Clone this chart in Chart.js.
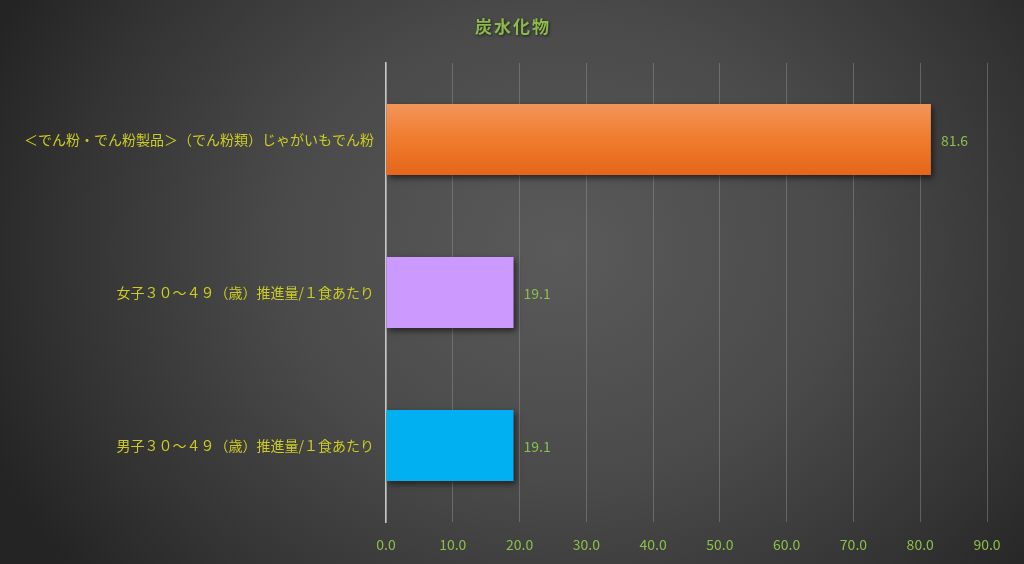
<!DOCTYPE html>
<html>
<head>
<meta charset="utf-8">
<script src="https://cdn.jsdelivr.net/npm/chart.js@4"></script>
<style>
html,body{margin:0;padding:0;}
body{width:1024px;height:564px;overflow:hidden;
background: radial-gradient(ellipse 620px 520px at 560px 250px, #5a5a5a 0%, #4a4a4a 45%, #333 80%, #242424 100%);}
#wrap{width:1024px;height:564px;position:relative;}
</style>
</head>
<body>
<div id="wrap"><canvas id="c" width="1024" height="564"></canvas></div>
<script>
const titleText = "炭水化物";
const categories = [
  "＜でん粉・でん粉製品＞（でん粉類）じゃがいもでん粉",
  "女子３０～４９（歳）推進量/１食あたり",
  "男子３０～４９（歳）推進量/１食あたり"
];
const values = [81.6, 19.1, 19.1];
const barColors = ["#EE7A2C", "#CC99FF", "#00B0F0"];
const xTicks = [0,10,20,30,40,50,60,70,80,90];

const FONT = '"Noto Sans CJK JP","Noto Sans",sans-serif';

function barFill(context){
  const i = context.dataIndex;
  const chart = context.chart;
  if (i !== 0 || !chart.chartArea) return barColors[i];
  const y = chart.scales.y;
  if (!y) return barColors[i];
  const c = y.getPixelForValue(i);
  const band = (chart.chartArea.bottom - chart.chartArea.top) / categories.length;
  const h = band * 0.464 / 2;
  const g = chart.ctx.createLinearGradient(0, c - h, 0, c + h);
  g.addColorStop(0, "#F3955A");
  g.addColorStop(0.5, "#F07B2E");
  g.addColorStop(1, "#E4661A");
  return g;
}

const labelPlugin = {
  id: "vals",
  afterDatasetsDraw(chart){
    const ctx = chart.ctx;
    const meta = chart.getDatasetMeta(0);
    ctx.save();
    ctx.font = "14px " + FONT;
    ctx.fillStyle = "#8CBF4A";
    ctx.textAlign = "left";
    ctx.textBaseline = "middle";
    meta.data.forEach((bar, i) => {
      ctx.fillText(values[i].toFixed(1), bar.x + 10, bar.y + 1);
    });
    ctx.restore();
  }
};
const shadowPlugin = {
  id: "shadow",
  beforeDatasetsDraw(chart){
    chart.ctx.save();
    chart.ctx.shadowColor = "rgba(0,0,0,0.55)";
    chart.ctx.shadowBlur = 6;
    chart.ctx.shadowOffsetX = 2;
    chart.ctx.shadowOffsetY = 3;
  },
  afterDatasetsDraw(chart){ chart.ctx.restore(); }
};
const titlePlugin = {
  id: "ttl",
  afterDraw(chart){
    const ctx = chart.ctx;
    ctx.save();
    ctx.font = "bold 17px " + FONT;
    ctx.textAlign = "center";
    ctx.textBaseline = "middle";
    ctx.letterSpacing = "2px";
    ctx.shadowColor = "rgba(0,0,0,0.6)";
    ctx.shadowBlur = 3;
    ctx.shadowOffsetX = 1;
    ctx.shadowOffsetY = 1;
    ctx.fillStyle = "#8DB84A";
    ctx.fillText(titleText, 513, 27);
    ctx.restore();
  }
};

new Chart(document.getElementById("c"), {
  type: "bar",
  data: {
    labels: categories,
    datasets: [{
      data: values,
      backgroundColor: barFill,
      borderWidth: 0,
      categoryPercentage: 1,
      barPercentage: 0.464
    }]
  },
  options: {
    indexAxis: "y",
    responsive: false,
    animation: false,
    devicePixelRatio: 1,
    layout: { padding: { top: 63, right: 37, left: 0, bottom: 0 } },
    plugins: { legend: { display: false }, tooltip: { enabled: false }, title: { display: false } },
    scales: {
      x: {
        min: 0, max: 90,
        afterBuildTicks(s){ s.ticks = xTicks.map(v => ({ value: v })); },
        afterFit(s){ s.height = 42; },
        grid: { color: "rgba(150,150,150,0.45)", lineWidth: 1, drawTicks: false },
        border: { display: false },
        ticks: {
          color: "#8CBF4A",
          font: { size: 14, family: FONT },
          padding: 14,
          callback: v => Number(v).toFixed(1)
        }
      },
      y: {
        afterFit(s){ s.width = 386; },
        grid: { display: false, drawTicks: false },
        border: { display: true, color: "#C8C8C8", width: 1.5 },
        ticks: {
          color: "#CCCC22",
          font: { size: 14, family: FONT },
          padding: 12
        }
      }
    }
  },
  plugins: [shadowPlugin, labelPlugin, titlePlugin]
});
</script>
</body>
</html>
